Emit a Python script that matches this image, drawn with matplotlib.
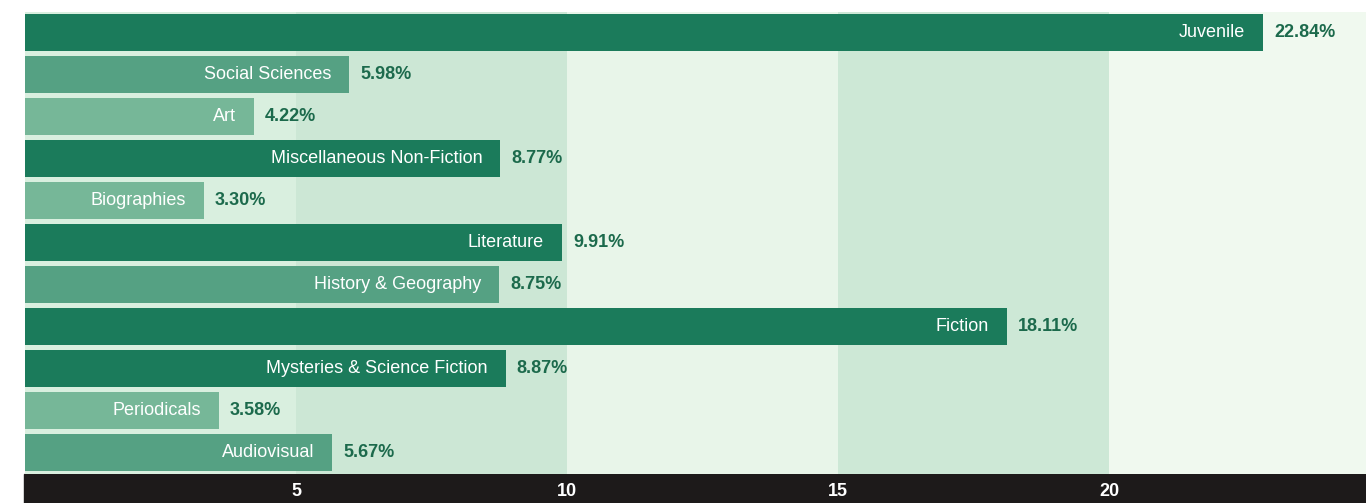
import matplotlib.pyplot as plt
from matplotlib.patches import Rectangle

categories = ["Juvenile", "Social Sciences", "Art", "Miscellaneous Non-Fiction",
              "Biographies", "Literature", "History & Geography", "Fiction",
              "Mysteries & Science Fiction", "Periodicals", "Audiovisual"]
shares = [22.84, 5.98, 4.22, 8.77, 3.30, 9.91, 8.75, 18.11, 8.87, 3.58, 5.67]
shade = ["dark", "mid", "light", "dark", "light", "dark", "mid", "dark", "dark", "light", "mid"]
ticks = [5, 10, 15, 20]

bar_colors = {"dark": "#1b7b5b", "mid": "#55a183", "light": "#76b798"}
band_colors = ["#d9efdf", "#cce7d5", "#e8f5e9", "#cde8d6", "#f0f9ef"]

plt.rcParams['font.family'] = ['Liberation Sans', 'DejaVu Sans']

fig = plt.figure(figsize=(13.66, 5.03), dpi=100)
W, H = 1366, 503
x0 = 25
px_per_unit = 271 / 5

# black strip under the plot, where the tick labels sit
fig.patches.append(Rectangle((24 / W, 0), 1 - 24 / W, 29 / H, transform=fig.transFigure,
                             color="#1d1a1a", zorder=0))

ax = fig.add_axes([x0 / W, 29.5 / H, (W - x0) / W, 462 / H])
ax.set_zorder(2)
xmax = (W - x0) / px_per_unit
ax.set_xlim(0, xmax)
ax.set_ylim(len(categories) - 0.5, -0.5)

# background bands every 5 units
edges = [0, 5, 10, 15, 20, xmax]
for i in range(len(edges) - 1):
    ax.axvspan(edges[i], edges[i + 1], color=band_colors[i], zorder=0, lw=0)

ys = range(len(categories))
ax.barh(ys, shares, height=0.88, color=[bar_colors[s] for s in shade], zorder=2)

for y, name, v in zip(ys, categories, shares):
    ax.text(v - 18 / px_per_unit, y, name, ha="right", va="center", color="white",
            fontsize=13, zorder=3)
    ax.text(v + 11 / px_per_unit, y, f"{v:.2f}%", ha="left", va="center",
            color="#1c6a4c", fontsize=13, fontweight="bold", zorder=3)

ax.set_yticks([])
ax.set_xticks(ticks)
ax.set_xticklabels([str(t) for t in ticks])
ax.tick_params(axis="x", length=0, pad=7, labelcolor="white", labelsize=13)
for lbl in ax.get_xticklabels():
    lbl.set_fontweight("bold")
for sp in ax.spines.values():
    sp.set_visible(False)

fig.savefig("out.png", dpi=100)
